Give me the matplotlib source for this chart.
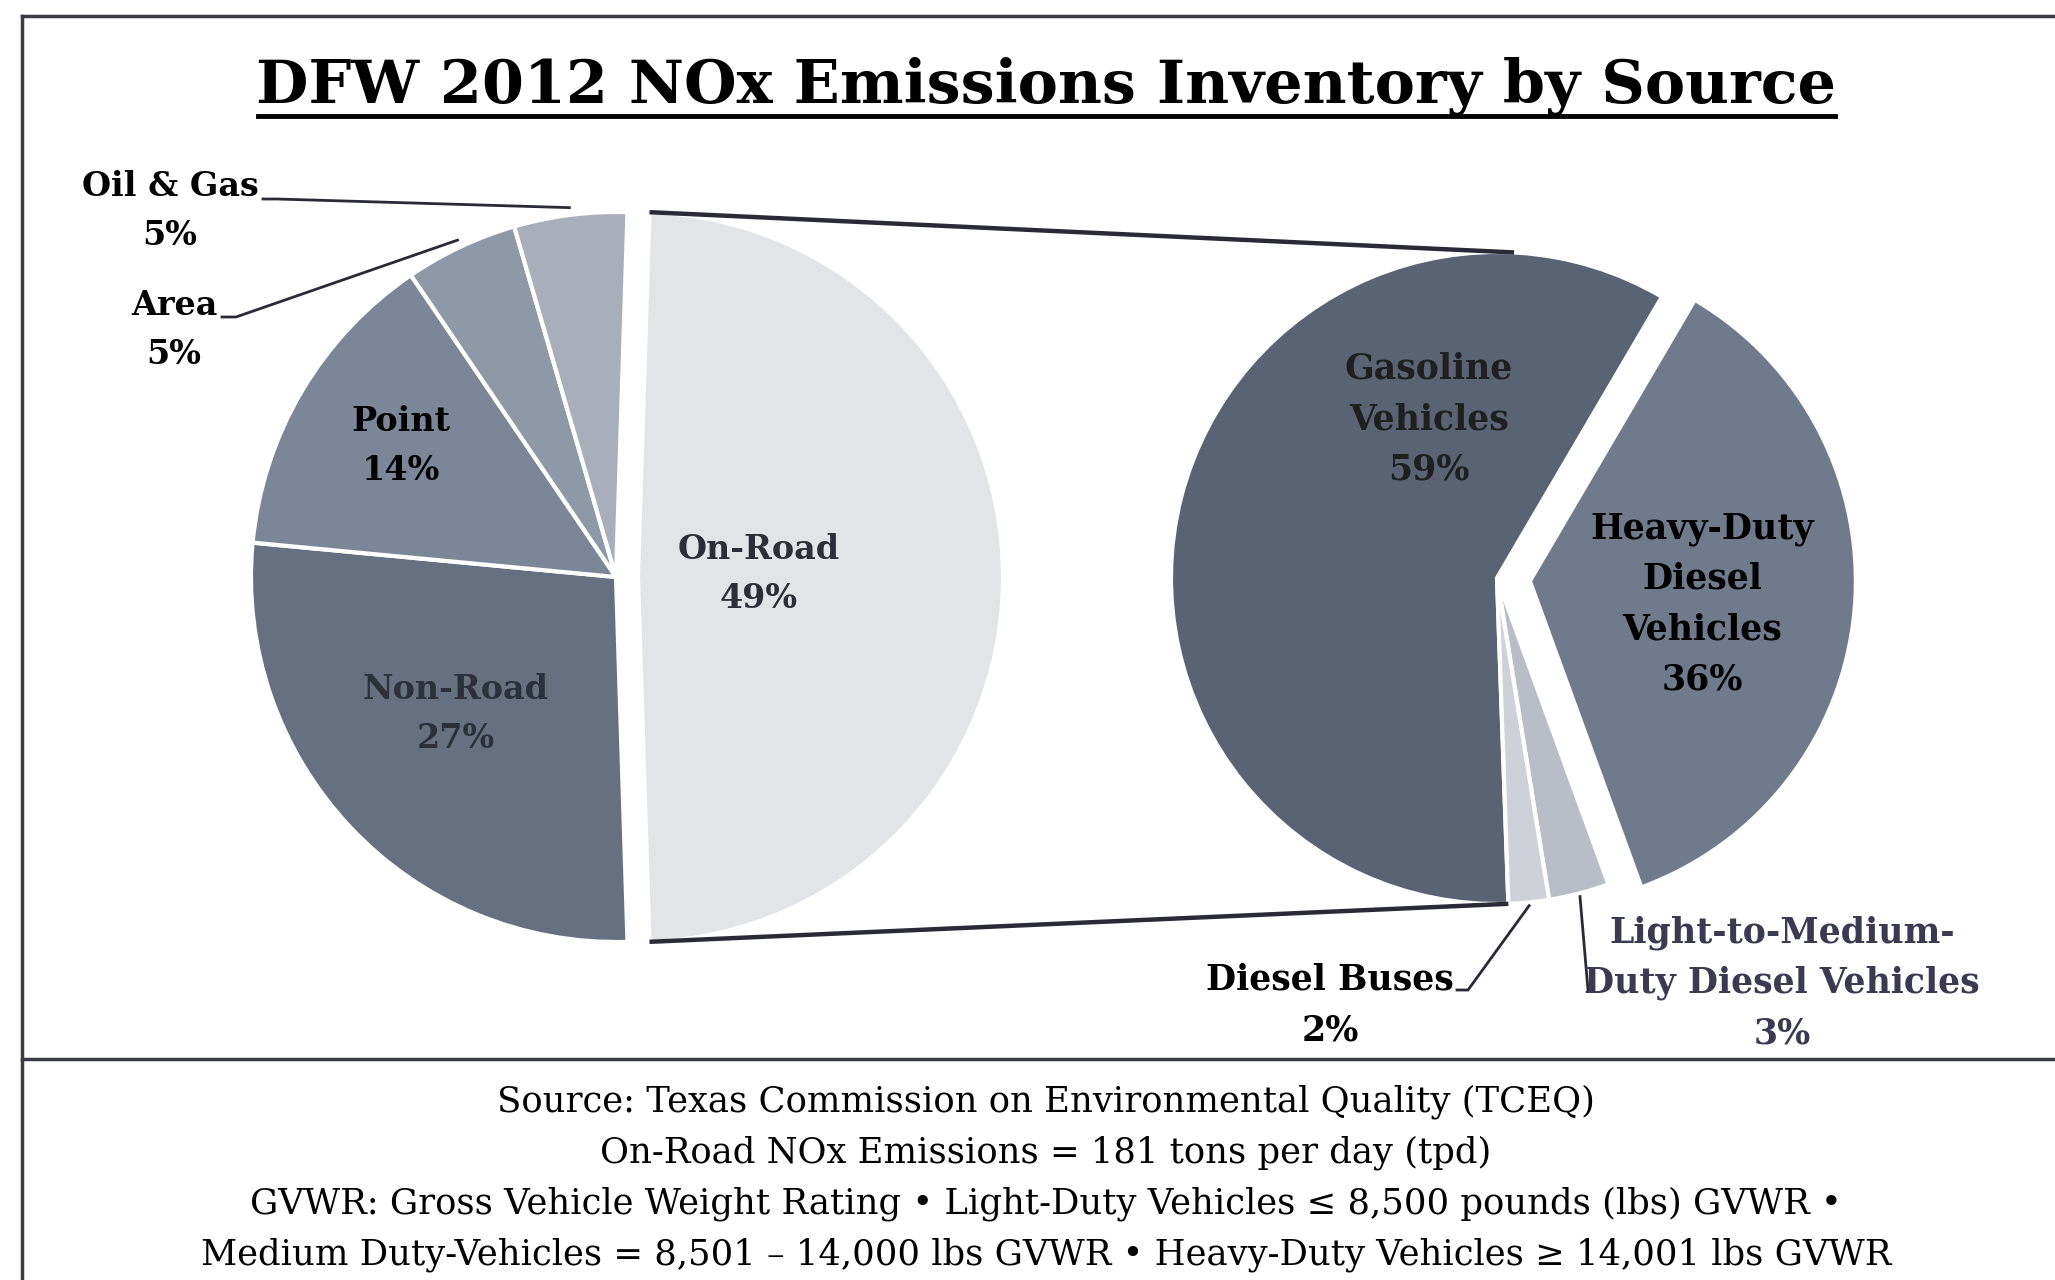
import numpy as np
import matplotlib
matplotlib.use("Agg")
import matplotlib.pyplot as plt

plt.rcParams["font.family"] = ["DejaVu Serif"]

# overall inventory by source (percent)
src_labels = ["On-Road", "Non-Road", "Point", "Area", "Oil & Gas"]
src_values = [49, 27, 14, 5, 5]
src_colors = ["#E3E4E8", "#667080", "#7B8799", "#8E99A8", "#A8AFBA"]

# on-road split (percent)
road_labels = ["Gasoline\nVehicles", "Heavy-Duty\nDiesel\nVehicles",
               "Light-to-Medium-\nDuty Diesel Vehicles", "Diesel Buses"]
road_values = [59, 36, 3, 2]
road_colors = ["#596373", "#6F7B8C", "#B9BEC6", "#CED2D8"]

footer = [
    "Source: Texas Commission on Environmental Quality (TCEQ)",
    "On-Road NOx Emissions = 181 tons per day (tpd)",
    "GVWR: Gross Vehicle Weight Rating \u2022 Light-Duty Vehicles \u2264 8,500 pounds (lbs) GVWR \u2022",
    "Medium Duty-Vehicles = 8,501 \u2013 14,000 lbs GVWR \u2022 Heavy-Duty Vehicles \u2265 14,001 lbs GVWR",
]

W, H = 2055, 1280
fig = plt.figure(figsize=(W / 100, H / 100), dpi=100)
ax = fig.add_axes([0, 0, 1, 1])

edge = dict(edgecolor="white", linewidth=3)

# left pie, On-Road pulled out (explode is in data units here)
left_c, left_r = (616, 703), 365
lw, _ = ax.pie(src_values, colors=src_colors, startangle=88.2, counterclock=False,
               center=left_c, radius=left_r, explode=[22, 0, 0, 0, 0],
               wedgeprops=edge, frame=True)

# right pie, Heavy-Duty pulled out
right_c, right_r = (1497, 702), 326
rw, _ = ax.pie(road_values, colors=road_colors, startangle=-88, counterclock=False,
               center=right_c, radius=right_r, explode=[0, 33, 0, 0],
               wedgeprops=edge, frame=True)
ax.set_xlim(0, W)
ax.set_ylim(0, H)
ax.set_aspect("equal")
ax.axis("off")


def rim(w, ang, k=1.0):
    a = np.radians(ang)
    return (w.center[0] + k * w.r * np.cos(a), w.center[1] + k * w.r * np.sin(a))


def mid(w):
    return (w.theta1 + w.theta2) / 2


def leader(pts):
    xs, ys = zip(*pts)
    ax.plot(xs, ys, color="#2a2a36", lw=2, solid_joinstyle="miter")


# connector lines between the two pies (wedge theta1 < theta2)
on = lw[0]
gas = rw[0]
for a1, a2 in [(on.theta2, 87), (on.theta1, gas.theta2)]:
    p1 = rim(on, a1)
    p2 = rim(gas, a2)
    ax.plot([p1[0], p2[0]], [p1[1], p2[1]], color="#2a2a36", lw=3.2, solid_capstyle="butt")

lab = dict(ha="center", va="center", fontweight="bold", fontsize=24, linespacing=1.6)

ax.text(759, 706, f"{src_labels[0]}\n{src_values[0]}%", color="#2e2e38", **lab)
ax.text(456, 566, f"{src_labels[1]}\n{src_values[1]}%", color="#2c303b", **lab)
ax.text(401, 834, f"{src_labels[2]}\n{src_values[2]}%", color="black", **lab)

ax.text(174, 950, f"{src_labels[3]}\n{src_values[3]}%", color="black", **lab)
leader([(222, 963), (236, 963), rim(lw[3], mid(lw[3]), 1.02)])
ax.text(170, 1069, f"{src_labels[4]}\n{src_values[4]}%", color="black", **lab)
leader([(263, 1081), (277, 1081), rim(lw[4], mid(lw[4]), 1.02)])

lab["fontsize"] = 25
ax.text(1429, 861, f"{road_labels[0]}\n{road_values[0]}%", color="#1f1f1f", **lab)
ax.text(1702, 676, f"{road_labels[1]}\n{road_values[1]}%", color="black", **lab)
ax.text(1782, 297, f"{road_labels[2]}\n{road_values[2]}%", color="#3a3a50", **lab)
ax.text(1330, 275, f"{road_labels[3]}\n{road_values[3]}%", color="black", **lab)
leader([(1457, 290), (1468, 290), rim(rw[3], mid(rw[3]), 1.01)])
leader([(1588, 290), rim(rw[2], mid(rw[2]), 1.01)])

# title
ax.text(1046, 1193, "DFW 2012 NOx Emissions Inventory by Source", ha="center", va="center",
        fontsize=43.5, fontweight="bold", color="black")
ax.plot([258, 1835], [1164, 1164], color="black", lw=3.5)

# frame and footer divider
ax.plot([22, W], [1264, 1264], color="#3c3c46", lw=2.5)
ax.plot([22, 22], [0, 1264], color="#3c3c46", lw=2.5)
ax.plot([22, W], [221, 221], color="#3c3c46", lw=2.5)

for i, line in enumerate(footer):
    ax.text(1046, 178 - i * 51, line, ha="center", va="center", fontsize=25.5, color="black")

fig.savefig("out.png", dpi=100)
